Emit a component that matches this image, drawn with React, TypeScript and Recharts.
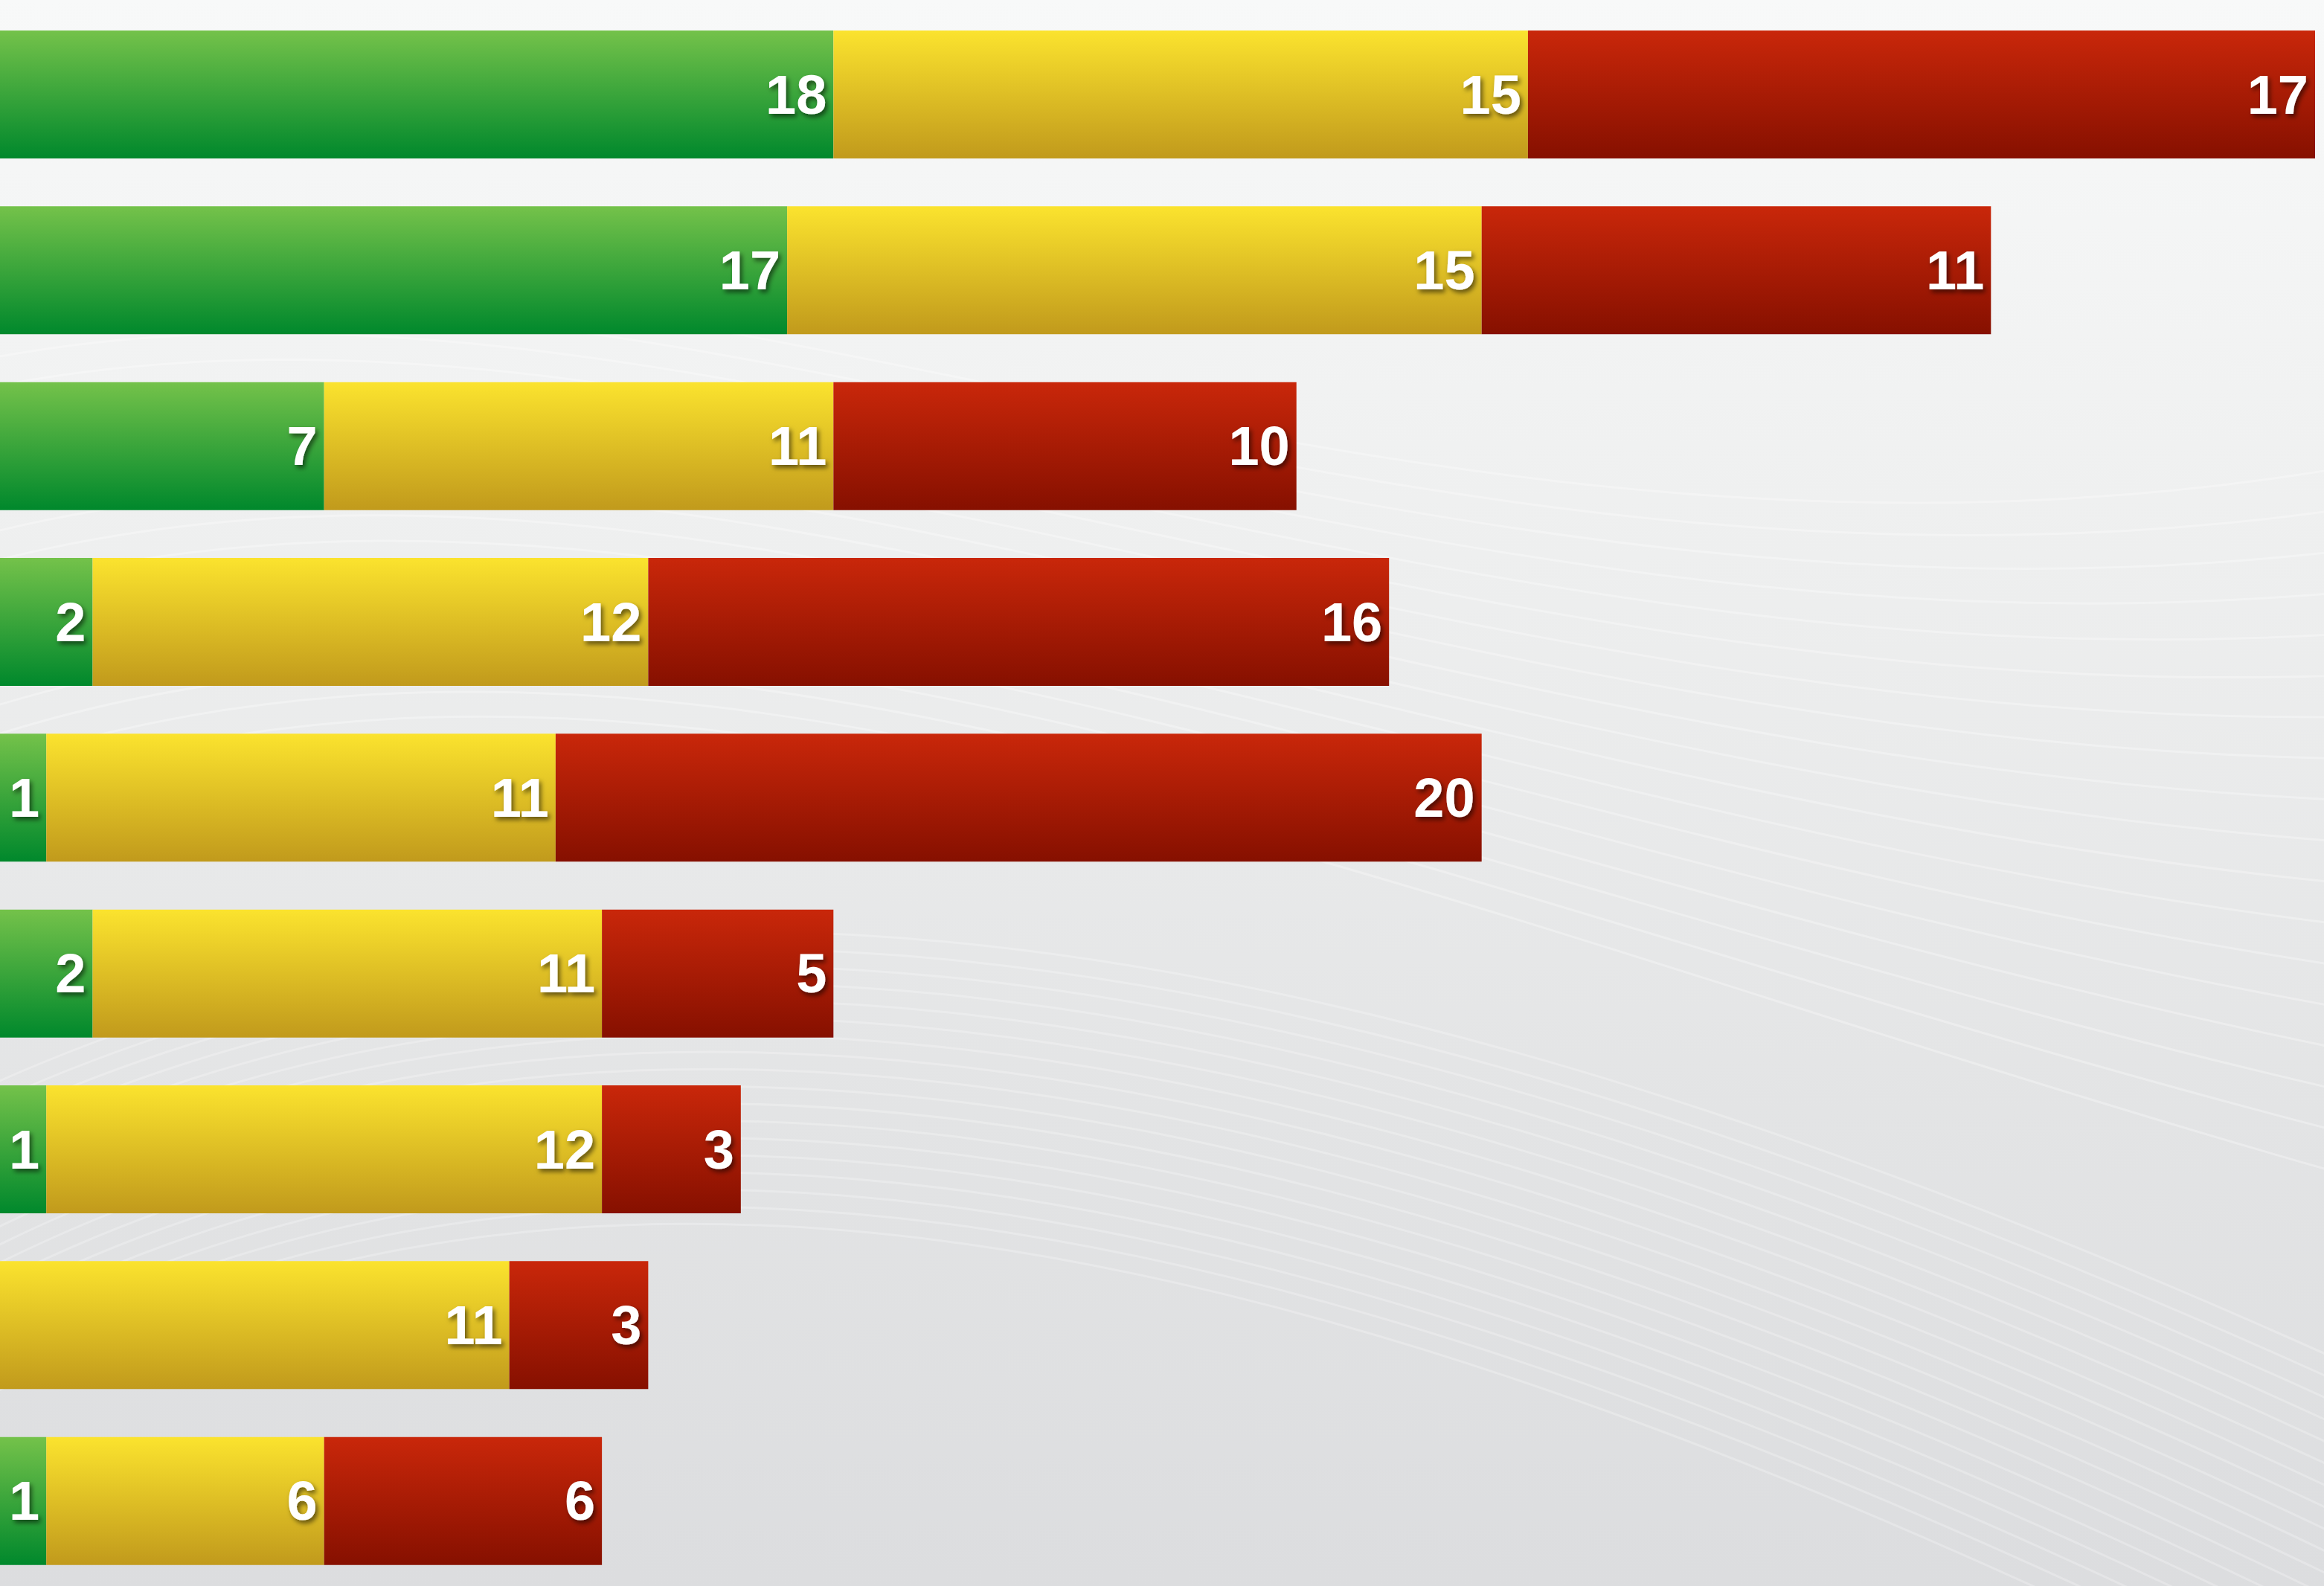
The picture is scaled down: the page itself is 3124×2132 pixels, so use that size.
import { Bar, BarChart, LabelList, XAxis, YAxis } from 'recharts'

// Horizontal stacked bars: green / yellow / red counts per row.
const rows = ['A', 'B', 'C', 'D', 'E', 'F', 'G', 'H', 'I']
const greenValues = [18, 17, 7, 2, 1, 2, 1, 0, 1]
const yellowValues = [15, 15, 11, 12, 11, 11, 12, 11, 6]
const redValues = [17, 11, 10, 16, 20, 5, 3, 3, 6]

const WIDTH = 3124
const HEIGHT = 2132

const data = rows.map((row, i) => ({
  row,
  green: greenValues[i],
  yellow: yellowValues[i],
  red: redValues[i],
}))

function ValueLabel(props: any) {
  const { x, y, width, height, value } = props
  if (!value) return null
  return (
    <text
      x={x + width - 9}
      y={y + height / 2}
      textAnchor="end"
      dominantBaseline="central"
      fill="#ffffff"
      fontSize={74}
      fontWeight="bold"
      fontFamily="'Liberation Sans', Arial, Helvetica, sans-serif"
      filter="url(#labelShadow)"
    >
      {value}
    </text>
  )
}

function Backdrop() {
  // faint white mesh curves over the grey gradient
  const curves = []
  for (let i = 0; i < 18; i++) {
    curves.push(
      <path
        key={'a' + i}
        d={`M -100 ${420 + i * 40} C 900 ${200 + i * 30}, 1900 ${900 + i * 20}, 3300 ${600 + i * 60}`}
        stroke="#ffffff"
        strokeOpacity={0.3}
        strokeWidth={3}
        fill="none"
      />
    )
    curves.push(
      <path
        key={'b' + i}
        d={`M -100 ${1500 + i * 25} C 700 ${1100 + i * 20}, 1700 ${1150 + i * 25}, 3300 ${1900 + i * 30}`}
        stroke="#ffffff"
        strokeOpacity={0.25}
        strokeWidth={3}
        fill="none"
      />
    )
  }
  return (
    <svg
      width={WIDTH}
      height={HEIGHT}
      style={{ position: 'absolute', left: 0, top: 0 }}
    >
      {curves}
    </svg>
  )
}

export default function App() {
  return (
    <div
      style={{
        position: 'fixed',
        left: 0,
        top: 0,
        width: WIDTH,
        height: HEIGHT,
        overflow: 'hidden',
        background: 'linear-gradient(180deg, #f8f9f9 0%, #eeefef 35%, #e3e4e5 70%, #dcdddf 100%)',
      }}
    >
      <Backdrop />
      <div style={{ position: 'absolute', left: 0, top: 0 }}>
        <BarChart
          width={WIDTH}
          height={2136}
          data={data}
          layout="vertical"
          margin={{ top: 9, right: 0, left: 0, bottom: 0 }}
          barSize={172}
        >
          <defs>
            <linearGradient id="greenGrad" x1="0" y1="0" x2="0" y2="1">
              <stop offset="0%" stopColor="#74c24a" />
              <stop offset="100%" stopColor="#00882c" />
            </linearGradient>
            <linearGradient id="yellowGrad" x1="0" y1="0" x2="0" y2="1">
              <stop offset="0%" stopColor="#fbe32e" />
              <stop offset="100%" stopColor="#c19a1c" />
            </linearGradient>
            <linearGradient id="redGrad" x1="0" y1="0" x2="0" y2="1">
              <stop offset="0%" stopColor="#c9270a" />
              <stop offset="100%" stopColor="#861000" />
            </linearGradient>
            <filter id="labelShadow" x="-20%" y="-20%" width="140%" height="140%">
              <feDropShadow dx="3" dy="4" stdDeviation="3" floodColor="#000000" floodOpacity={0.55} />
            </filter>
          </defs>
          <XAxis type="number" domain={[0, WIDTH / 62.24]} hide />
          <YAxis type="category" dataKey="row" hide width={0} />
          <Bar dataKey="green" stackId="s" fill="url(#greenGrad)" isAnimationActive={false}>
            <LabelList dataKey="green" content={ValueLabel} />
          </Bar>
          <Bar dataKey="yellow" stackId="s" fill="url(#yellowGrad)" isAnimationActive={false}>
            <LabelList dataKey="yellow" content={ValueLabel} />
          </Bar>
          <Bar dataKey="red" stackId="s" fill="url(#redGrad)" isAnimationActive={false}>
            <LabelList dataKey="red" content={ValueLabel} />
          </Bar>
        </BarChart>
      </div>
    </div>
  )
}
